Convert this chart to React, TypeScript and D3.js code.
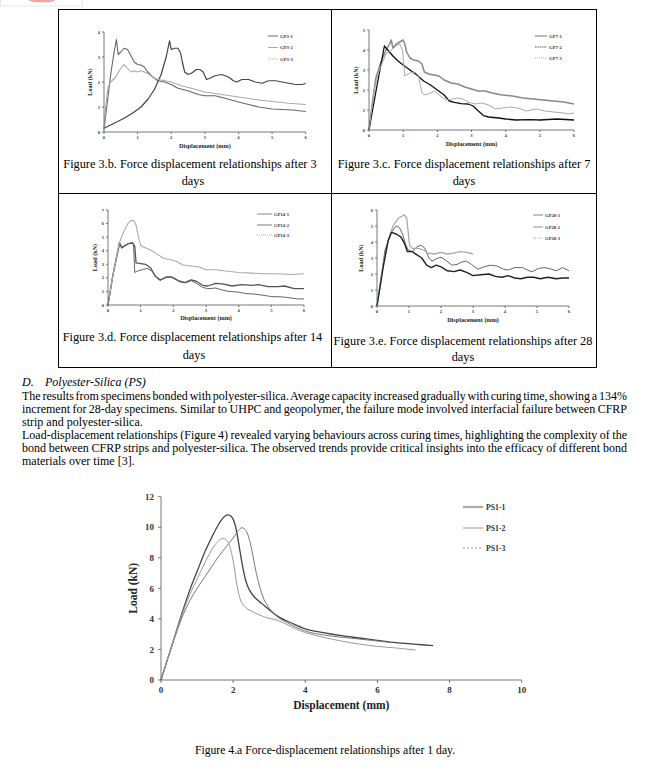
import React, { useLayoutEffect, useRef } from "react";
import * as d3 from "d3";

type Pt = [number, number];

// ---------- GP3 (3 days) ----------
const gp3_1: Pt[] = [[0,0.15],[0.3,0.35],[0.6,0.55],[0.9,0.8],[1.1,1.0],[1.3,1.3],[1.5,1.7],[1.7,2.3],[1.85,3.0],[1.95,3.65],[2.0,3.3],[2.1,3.35],[2.2,3.35],[2.28,3.15],[2.33,2.8],[2.4,2.4],[2.5,2.3],[2.6,2.35],[2.75,2.5],[2.85,2.5],[2.95,2.4],[3.05,2.1],[3.15,2.15],[3.3,2.25],[3.5,2.3],[3.7,2.2],[3.85,2.05],[3.95,2.0],[4.1,2.1],[4.3,2.1],[4.5,2.0],[4.7,1.95],[4.9,2.05],[5.1,2.05],[5.3,2.0],[5.5,1.95],[5.7,1.9],[5.9,1.9],[6.0,1.95]];
const gp3_2: Pt[] = [[0,0.1],[0.1,1.2],[0.2,2.3],[0.3,3.2],[0.37,3.7],[0.42,3.1],[0.5,3.2],[0.6,3.35],[0.7,3.3],[0.8,3.05],[0.9,2.8],[1.0,2.7],[1.1,2.68],[1.2,2.6],[1.3,2.4],[1.45,2.2],[1.6,2.05],[1.8,2.0],[2.0,1.9],[2.2,1.75],[2.5,1.65],[2.8,1.5],[3.0,1.45],[3.3,1.45],[3.6,1.35],[4.0,1.2],[4.3,1.1],[4.6,1.0],[5.0,0.92],[5.3,0.9],[5.6,0.88],[6.0,0.82]];
const gp3_3: Pt[] = [[0,0.1],[0.05,1.0],[0.12,1.8],[0.2,2.0],[0.35,2.2],[0.5,2.55],[0.6,2.7],[0.7,2.55],[0.8,2.4],[0.9,2.45],[1.0,2.4],[1.1,2.45],[1.2,2.4],[1.35,2.3],[1.5,2.15],[1.7,2.08],[2.0,2.0],[2.3,1.85],[2.6,1.75],[3.0,1.6],[3.5,1.5],[4.0,1.4],[4.5,1.3],[5.0,1.22],[5.5,1.15],[6.0,1.1]];

// ---------- GP7 (7 days) ----------
const gp7_1: Pt[] = [[0,0],[0.1,1.4],[0.2,2.6],[0.35,3.4],[0.5,4.0],[0.6,4.3],[0.65,4.5],[0.7,4.1],[0.8,4.3],[0.9,4.4],[1.0,4.5],[1.05,4.3],[1.1,3.9],[1.2,3.6],[1.3,3.5],[1.45,3.45],[1.55,3.3],[1.62,2.9],[1.75,2.8],[1.9,2.75],[2.05,2.7],[2.2,2.5],[2.4,2.35],[2.6,2.3],[2.8,2.15],[3.0,2.05],[3.2,1.95],[3.4,1.95],[3.6,1.85],[3.9,1.75],[4.2,1.7],[4.5,1.6],[4.8,1.55],[5.1,1.5],[5.4,1.45],[5.7,1.4],[6.0,1.3]];
const gp7_2: Pt[] = [[0,0],[0.2,1.9],[0.45,4.2],[0.55,4.0],[0.7,3.7],[0.85,3.45],[1.0,3.25],[1.2,3.0],[1.4,2.75],[1.6,2.45],[1.8,2.25],[2.0,2.0],[2.2,1.75],[2.35,1.45],[2.5,1.38],[2.7,1.32],[2.9,1.3],[3.05,1.2],[3.2,0.95],[3.35,0.72],[3.5,0.65],[3.8,0.6],[4.0,0.55],[4.3,0.5],[4.7,0.52],[5.0,0.5],[5.5,0.55],[6.0,0.5]];
const gp7_3: Pt[] = [[0,0],[0.15,2.0],[0.3,3.0],[0.5,3.8],[0.65,4.0],[0.8,4.2],[0.9,4.3],[0.98,4.0],[1.05,2.7],[1.2,2.85],[1.35,2.9],[1.45,2.7],[1.55,1.85],[1.65,1.75],[1.8,1.85],[1.92,1.95],[2.05,1.75],[2.25,1.5],[2.45,1.55],[2.6,1.6],[2.75,1.55],[2.9,1.4],[3.1,1.3],[3.3,1.35],[3.5,1.25],[3.7,1.05],[3.9,1.1],[4.1,1.15],[4.35,1.1],[4.6,0.95],[4.9,1.05],[5.15,0.95],[5.4,0.9],[5.7,0.85],[5.85,0.8],[6.0,0.85]];

// ---------- GP14 (14 days) ----------
const gp14_1: Pt[] = [[0,0],[0.15,2.2],[0.35,4.4],[0.45,4.3],[0.6,4.5],[0.7,4.55],[0.78,4.5],[0.82,2.4],[0.9,2.5],[1.05,2.6],[1.2,2.7],[1.35,2.5],[1.5,2.0],[1.6,1.8],[1.75,2.05],[1.9,2.1],[2.05,1.95],[2.2,1.7],[2.4,1.65],[2.55,1.8],[2.7,1.6],[2.9,1.3],[3.05,1.2],[3.3,1.25],[3.5,1.1],[3.7,1.0],[4.0,0.95],[4.2,0.85],[4.5,0.8],[4.8,0.7],[5.0,0.62],[5.3,0.6],[5.5,0.55],[5.8,0.45],[6.0,0.45]];
const gp14_2: Pt[] = [[0,0],[0.15,2.2],[0.35,4.6],[0.42,4.2],[0.6,4.5],[0.75,4.6],[0.82,4.3],[0.86,3.1],[1.0,3.05],[1.15,3.0],[1.3,2.75],[1.45,2.1],[1.6,1.85],[1.8,2.05],[1.95,2.05],[2.15,1.8],[2.35,1.65],[2.55,1.85],[2.7,1.75],[2.9,1.45],[3.05,1.4],[3.3,1.6],[3.5,1.55],[3.8,1.4],[4.1,1.5],[4.4,1.45],[4.6,1.5],[4.9,1.35],[5.2,1.35],[5.4,1.4],[5.7,1.2],[6.0,1.2]];
const gp14_3: Pt[] = [[0,0],[0.15,2.2],[0.35,4.6],[0.5,5.5],[0.62,6.05],[0.72,6.25],[0.8,6.2],[0.87,5.8],[0.93,5.0],[1.0,4.4],[1.1,4.25],[1.3,4.05],[1.5,3.75],[1.7,3.45],[1.9,3.35],[2.1,3.2],[2.3,2.95],[2.6,2.85],[2.8,2.8],[3.0,2.6],[3.3,2.6],[3.6,2.5],[4.0,2.4],[4.4,2.35],[4.8,2.3],[5.2,2.3],[5.6,2.25],[6.0,2.3]];

// ---------- GP28 (28 days) ----------
const gp28_1: Pt[] = [[0,0],[0.25,3.5],[0.45,4.6],[0.6,5.0],[0.7,4.9],[0.8,4.5],[0.9,3.8],[0.98,3.5],[1.1,3.4],[1.25,3.7],[1.38,3.8],[1.5,3.6],[1.62,3.0],[1.72,2.8],[1.85,2.95],[2.0,3.05],[2.15,2.85],[2.35,2.55],[2.5,2.6],[2.65,2.75],[2.8,2.8],[2.95,2.6],[3.15,2.3],[3.35,2.45],[3.55,2.55],[3.75,2.5],[3.95,2.3],[4.1,2.25],[4.3,2.4],[4.55,2.4],[4.75,2.2],[4.85,2.15],[5.05,2.35],[5.25,2.4],[5.45,2.3],[5.6,2.2],[5.8,2.4],[5.95,2.25],[6.0,2.2]];
const gp28_2: Pt[] = [[0,0],[0.2,2.7],[0.35,4.1],[0.5,5.0],[0.65,5.45],[0.85,5.7],[0.93,5.5],[0.98,4.5],[1.02,3.8],[1.1,3.6],[1.3,3.6],[1.45,3.5],[1.6,3.3],[1.8,3.25],[2.0,3.35],[2.2,3.25],[2.4,3.3],[2.6,3.4],[2.8,3.35],[3.0,3.25]];
const gp28_3: Pt[] = [[0,0],[0.2,2.5],[0.35,4.1],[0.45,4.6],[0.6,4.5],[0.75,4.3],[0.85,3.95],[0.95,3.4],[1.1,3.4],[1.25,3.2],[1.4,3.0],[1.55,2.55],[1.7,2.4],[1.85,2.55],[2.0,2.45],[2.2,2.2],[2.4,2.15],[2.6,2.25],[2.8,2.1],[3.0,1.9],[3.25,1.95],[3.5,2.0],[3.7,1.85],[3.9,1.8],[4.1,1.9],[4.3,1.75],[4.5,1.7],[4.7,1.8],[4.9,1.8],[5.1,1.7],[5.35,1.8],[5.6,1.7],[5.8,1.75],[6.0,1.75]];

// ---------- PS1 (1 day, main chart) ----------
const ps1_1: Pt[] = [[0,0],[0.2,1.5],[0.4,3.0],[0.6,4.5],[0.8,5.9],[1.0,7.1],[1.2,8.3],[1.4,9.3],[1.55,10.0],[1.7,10.55],[1.82,10.8],[1.95,10.7],[2.05,10.2],[2.15,9.0],[2.25,7.6],[2.35,6.5],[2.45,5.9],[2.6,5.4],[2.8,5.0],[3.0,4.6],[3.25,4.15],[3.6,3.75],[4.0,3.35],[4.5,3.1],[5.0,2.9],[5.5,2.75],[6.0,2.6],[6.5,2.45],[7.0,2.35],[7.54,2.25]];
const ps1_2: Pt[] = [[0,0],[0.2,1.5],[0.4,2.9],[0.6,4.2],[0.8,5.2],[1.0,6.0],[1.2,6.7],[1.4,7.4],[1.6,8.1],[1.8,8.7],[2.0,9.3],[2.15,9.8],[2.24,9.97],[2.35,9.8],[2.45,9.2],[2.55,8.1],[2.65,6.9],[2.75,6.0],[2.85,5.3],[3.0,4.7],[3.25,4.1],[3.5,3.75],[4.0,3.2],[4.5,2.95],[5.0,2.8],[5.5,2.68],[6.0,2.55],[6.4,2.45]];
const ps1_3: Pt[] = [[0,0],[0.2,1.5],[0.4,3.0],[0.6,4.4],[0.8,5.6],[1.0,6.6],[1.2,7.6],[1.4,8.5],[1.55,9.0],[1.71,9.27],[1.82,9.15],[1.9,8.8],[2.0,7.8],[2.08,6.6],[2.15,5.7],[2.25,5.0],[2.4,4.65],[2.6,4.4],[2.9,4.1],[3.25,3.9],[3.6,3.5],[4.0,3.1],[4.5,2.8],[5.0,2.55],[5.5,2.35],[6.0,2.2],[6.5,2.1],[7.06,1.96]];

// ---------- ticks ----------
const panelXTicks = [0, 1, 2, 3, 4, 5, 6];
const gp3YTicks = [0, 1, 2, 3, 4];
const gp7YTicks = [0, 1, 2, 3, 4, 5];
const gp14YTicks = [0, 1, 2, 3, 4, 5, 6, 7];
const gp28YTicks = [0, 1, 2, 3, 4, 5, 6];
const mainXTicks = [0, 2, 4, 6, 8, 10];
const mainYTicks = [0, 2, 4, 6, 8, 10, 12];

// ---------- text ----------
const captions3b = ["Figure 3.b. Force displacement relationships after 3", "days"];
const captions3c = ["Figure 3.c. Force displacement relationships after 7", "days"];
const captions3d = ["Figure 3.d. Force displacement relationships after 14", "days"];
const captions3e = ["Figure 3.e. Force displacement relationships after 28", "days"];
const sectionHeading = ["D.", "Polyester-Silica (PS)"];
const paragraphLines: [string, boolean][] = [
  ["The results from specimens bonded with polyester-silica. Average capacity increased gradually with curing time, showing a 134%", true],
  ["increment for 28-day specimens. Similar to UHPC and geopolymer, the failure mode involved interfacial failure between CFRP", true],
  ["strip and polyester-silica.", false],
  ["Load-displacement relationships (Figure 4) revealed varying behaviours across curing times, highlighting the complexity of the", true],
  ["bond between CFRP strips and polyester-silica. The observed trends provide critical insights into the efficacy of different bond", true],
  ["materials over time [3].", false],
];
const mainCaption = "Figure 4.a Force-displacement relationships after 1 day.";

const SERIF = "'Liberation Serif', 'Times New Roman', serif";

interface Series {
  name: string;
  data: Pt[];
  color: string;
  width: number;
  dash?: string;
  lColor: string;
  lWidth: number;
  lDash?: string;
}

interface PanelProps {
  xr: [number, number];
  yr: [number, number];
  yMax: number;
  yTicks: number[];
  series: Series[];
  legX: [number, number];
  legTextX: number;
  legYs: number[];
  yLabelX: number;
  xLabelY: number;
  curve?: d3.CurveFactory;
  tickFont: number;
  labelFont: number;
  legFont: number;
  xTicks: number[];
  xMax: number;
  tickLen: number;
  axisColor: string;
  yTickDx: number;
  xTickDy: number;
}

function Chart(p: PanelProps) {
  const x = d3.scaleLinear().domain([0, p.xMax]).range(p.xr);
  const y = d3.scaleLinear().domain([0, p.yMax]).range(p.yr);
  const line = d3
    .line<Pt>()
    .x((d) => x(d[0]))
    .y((d) => y(d[1]))
    .curve(p.curve || d3.curveLinear);
  const xMid = (p.xr[0] + p.xr[1]) / 2;
  const yMid = (p.yr[0] + p.yr[1]) / 2;
  return (
    <g>
      {p.series.map((s) => (
        <path key={s.name} d={line(s.data) || ""} fill="none" stroke={s.color} strokeWidth={s.width} strokeDasharray={s.dash} strokeLinejoin="round" />
      ))}
      <line x1={x(0)} x2={x(0)} y1={y(0)} y2={y(p.yMax)} stroke={p.axisColor} strokeWidth={0.8} />
      <line x1={x(0)} x2={x(p.xMax)} y1={y(0)} y2={y(0)} stroke={p.axisColor} strokeWidth={0.8} />
      {p.yTicks.map((t) => (
        <g key={"y" + t}>
          <line x1={x(0) - p.tickLen} x2={x(0)} y1={y(t)} y2={y(t)} stroke={p.axisColor} strokeWidth={0.8} />
          <text x={x(0) - p.yTickDx} y={y(t) + p.tickFont * 0.35} textAnchor="end" fontSize={p.tickFont} fontWeight="bold" fill="#333">
            {t}
          </text>
        </g>
      ))}
      {p.xTicks.map((t) => (
        <g key={"x" + t}>
          <line x1={x(t)} x2={x(t)} y1={y(0)} y2={y(0) + p.tickLen} stroke={p.axisColor} strokeWidth={0.8} />
          <text x={x(t)} y={y(0) + p.xTickDy} textAnchor="middle" fontSize={p.tickFont} fontWeight="bold" fill="#333">
            {t}
          </text>
        </g>
      ))}
      <text x={xMid} y={p.xLabelY} textAnchor="middle" fontSize={p.labelFont} fontWeight="bold" fill="#222">
        Displacement (mm)
      </text>
      <text transform={`translate(${p.yLabelX},${yMid}) rotate(-90)`} textAnchor="middle" fontSize={p.labelFont} fontWeight="bold" fill="#222">
        Load (kN)
      </text>
      {p.series.map((s, i) => (
        <g key={"l" + s.name}>
          <line x1={p.legX[0]} x2={p.legX[1]} y1={p.legYs[i]} y2={p.legYs[i]} stroke={s.lColor} strokeWidth={s.lWidth} strokeDasharray={s.lDash} />
          <text x={p.legTextX} y={p.legYs[i] + p.legFont * 0.35} fontSize={p.legFont} fontWeight="bold" fill="#333">
            {s.name}
          </text>
        </g>
      ))}
    </g>
  );
}

function Caption({ lines, cxs, ys }: { lines: string[]; cxs: number[]; ys: number[] }) {
  return (
    <g>
      {lines.map((l, i) => (
        <text key={i} x={cxs[i]} y={ys[i]} textAnchor="middle" fontSize={12.3} fill="#000">
          {l}
        </text>
      ))}
    </g>
  );
}

export default function App() {
  const ref = useRef<SVGSVGElement>(null);

  useLayoutEffect(() => {
    if (!ref.current) return;
    d3.select(ref.current)
      .selectAll<SVGTextElement, unknown>("text.justify")
      .each(function () {
        const el = this;
        el.setAttribute("word-spacing", "0");
        const w = el.getComputedTextLength();
        const target = +(el.getAttribute("data-width") || "0");
        const spaces = ((el.textContent || "").match(/ /g) || []).length;
        if (spaces > 0) el.setAttribute("word-spacing", String((target - w) / spaces));
      });
  }, []);

  const panelCommon = {
    tickFont: 4.6,
    labelFont: 6.2,
    legFont: 4.7,
    xTicks: panelXTicks,
    xMax: 6,
    tickLen: 2,
    axisColor: "#555",
    yTickDx: 4,
    xTickDy: 7,
  };

  const textLeft = 22;
  const textRight = 627;
  const paraY0 = 399.5;
  const paraDy = 13;
  const paraFont = 12;

  return (
    <svg ref={ref} width={649} height={770} style={{ position: "absolute", left: 0, top: 0, background: "#fff" }} fontFamily={SERIF}>
      <rect x={0} y={0} width={649} height={770} fill="#fff" />
      {/* top-left page artefact */}
      <rect x={0.5} y={-1} width={82} height={7} fill="#fff" stroke="#e6e6e6" />
      <ellipse cx={42} cy={0} rx={13} ry={2.6} fill="#f2a3a3" />

      {/* table */}
      <rect x={58.5} y={9.5} width={538} height={358} fill="none" stroke="#000" strokeWidth={1} />
      <line x1={331.5} x2={331.5} y1={9.5} y2={367.5} stroke="#000" />
      <line x1={58.5} x2={596.5} y1={193.5} y2={193.5} stroke="#000" />

      <Chart
        {...panelCommon}
        xr={[104, 305.7]}
        yr={[132, 32]}
        yMax={4}
        yTicks={gp3YTicks}
        legX={[268, 278]}
        legTextX={280}
        legYs={[36, 47.5, 59]}
        yLabelX={92}
        xLabelY={148}
        series={[
          { name: "GP3-1", data: gp3_1, color: "#444", width: 1.2, lColor: "#666", lWidth: 1 },
          { name: "GP3-2", data: gp3_2, color: "#666", width: 1.1, lColor: "#aaa", lWidth: 1 },
          { name: "GP3-3", data: gp3_3, color: "#aaa", width: 1.1, lColor: "#aaa", lWidth: 1, lDash: "1 1" },
        ]}
      />
      <Caption lines={captions3b} cxs={[190, 193]} ys={[167.5, 185]} />

      <Chart
        {...panelCommon}
        xr={[369, 574]}
        yr={[130, 30]}
        yMax={5}
        yTicks={gp7YTicks}
        legX={[535, 547]}
        legTextX={549}
        legYs={[36, 47, 58]}
        yLabelX={358}
        xLabelY={146}
        series={[
          { name: "GP7-1", data: gp7_1, color: "#888", width: 1.5, lColor: "#aaa", lWidth: 1.6 },
          { name: "GP7-2", data: gp7_2, color: "#111", width: 1.3, lColor: "#333", lWidth: 0.8, lDash: "1.5 0.8" },
          { name: "GP7-3", data: gp7_3, color: "#aaa", width: 1, lColor: "#aaa", lWidth: 1, lDash: "1 1" },
        ]}
      />
      <Caption lines={captions3c} cxs={[464, 464]} ys={[167.5, 185]} />

      <Chart
        {...panelCommon}
        xr={[108, 304]}
        yr={[305, 210]}
        yMax={7}
        yTicks={gp14YTicks}
        legX={[257, 272]}
        legTextX={274}
        legYs={[214, 225, 235]}
        yLabelX={97}
        xLabelY={320}
        series={[
          { name: "GP14-1", data: gp14_1, color: "#666", width: 1, lColor: "#666", lWidth: 0.8 },
          { name: "GP14-2", data: gp14_2, color: "#555", width: 1.3, lColor: "#aaa", lWidth: 1.5 },
          { name: "GP14-3", data: gp14_3, color: "#aaa", width: 1.1, lColor: "#aaa", lWidth: 1, lDash: "1 1" },
        ]}
      />
      <Caption lines={captions3d} cxs={[192.5, 194]} ys={[341, 358.5]} />

      <Chart
        {...panelCommon}
        xr={[377, 569]}
        yr={[306, 210]}
        yMax={6}
        yTicks={gp28YTicks}
        legX={[533, 543]}
        legTextX={545}
        legYs={[215, 227, 238]}
        yLabelX={363}
        xLabelY={322}
        series={[
          { name: "GP28-1", data: gp28_1, color: "#666", width: 1, lColor: "#666", lWidth: 0.8 },
          { name: "GP28-2", data: gp28_2, color: "#aaa", width: 1.3, lColor: "#aaa", lWidth: 1.3 },
          { name: "GP28-3", data: gp28_3, color: "#222", width: 1.4, lColor: "#aaa", lWidth: 1, lDash: "1 1" },
        ]}
      />
      <Caption lines={captions3e} cxs={[463, 463]} ys={[345, 361]} />

      {/* section text */}
      <text x={textLeft} y={386} fontSize={paraFont} fontStyle="italic">
        {sectionHeading[0]}
      </text>
      <text x={45} y={386} fontSize={paraFont} fontStyle="italic">
        {sectionHeading[1]}
      </text>
      {paragraphLines.map(([t, j], i) => (
        <text key={i} className={j ? "justify" : undefined} data-width={textRight - textLeft} x={textLeft} y={paraY0 + i * paraDy} fontSize={paraFont}>
          {t}
        </text>
      ))}

      {/* main chart */}
      <Chart
        tickFont={9}
        labelFont={11.5}
        legFont={7.8}
        xTicks={mainXTicks}
        xMax={10}
        tickLen={3}
        axisColor="#555"
        yTickDx={7}
        xTickDy={13}
        xr={[161, 521.7]}
        yr={[680, 496.7]}
        yMax={12}
        yTicks={mainYTicks}
        legX={[463, 483]}
        legTextX={486}
        legYs={[507, 528, 548]}
        yLabelX={137}
        xLabelY={709}
        curve={d3.curveCatmullRom.alpha(0.5)}
        series={[
          { name: "PS1-1", data: ps1_1, color: "#444", width: 1.3, lColor: "#aaa", lWidth: 2.2 },
          { name: "PS1-2", data: ps1_2, color: "#777", width: 1, lColor: "#999", lWidth: 1 },
          { name: "PS1-3", data: ps1_3, color: "#999", width: 1, lColor: "#999", lWidth: 1, lDash: "2 2" },
        ]}
      />
      <text x={325} y={754} textAnchor="middle" fontSize={11.7} fill="#000">
        {mainCaption}
      </text>
    </svg>
  );
}
